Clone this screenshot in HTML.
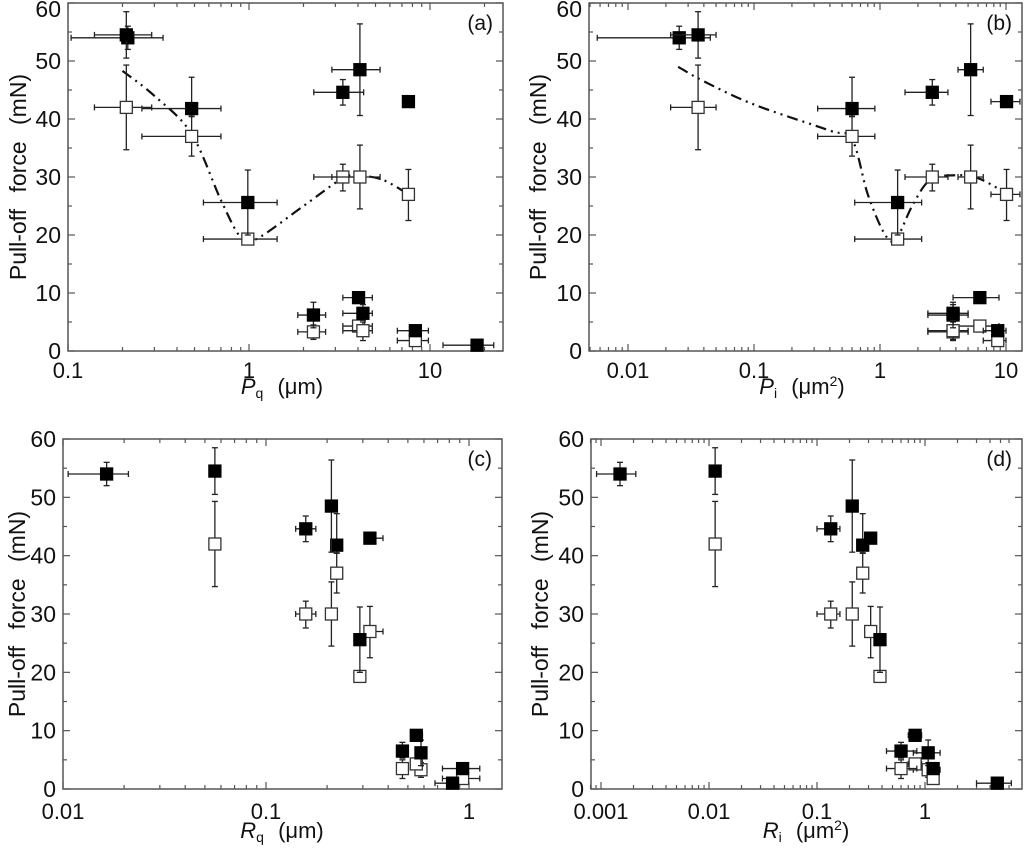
<!DOCTYPE html>
<html><head><meta charset="utf-8">
<style>
html,body{margin:0;padding:0;background:#fff;}
svg{display:block;font-family:"Liberation Sans",Arial,sans-serif;}
</style></head>
<body>
<svg id="fig" width="1024" height="850" viewBox="0 0 1024 850"></svg>
<script>
// ---- shared force data (mN) for 12 samples ----
const filledForce = [54.0, 54.5, 41.8, 25.6, 44.6, 48.5, 43.0, 6.2, 9.2, 6.5, 3.5, 1.0];
const filledLo    = [52.0, 50.5, 40.5, 20.0, 42.4, 40.6, 42.6, 4.0, 8.5, 5.3, 3.0, 0.7];
const filledHi    = [56.0, 58.5, 47.2, 31.2, 46.8, 56.4, 43.4, 8.4, 9.9, 8.0, 4.0, 1.3];
const openForce = [null, 42.0, 37.0, 19.3, 30.0, 30.0, 27.0, 3.3, 4.3, 3.5, 1.8, null];
const openLo    = [null, 34.7, 33.6, 19.0, 27.6, 24.5, 22.5, 2.0, 3.5, 1.8, 1.3, null];
const openHi    = [null, 49.3, 40.4, 20.0, 32.2, 35.5, 31.3, 4.5, 5.0, 5.0, 2.3, null];
// ---- panel x values ----
const xA = [0.214, 0.21, 0.482, 0.985, 3.3, 4.1, 7.6, 2.27, 4.03, 4.26, 8.3, 18.2];
const xALo = [0.104, 0.14, 0.256, 0.56, 2.28, 2.87, null, 1.86, 3.3, 3.3, 6.6, 11.8];
const xAHi = [0.335, 0.29, 0.70, 1.43, 4.3, 5.3, null, 2.65, 4.8, 4.8, 9.8, 22.5];
const xB = [0.0255, 0.036, 0.60, 1.38, 2.6, 5.24, 10.1, 3.8, 6.2, 3.8, 8.6, null];
const xBLo = [0.0057, 0.0218, 0.32, 0.63, 1.58, 4.16, 7.6, 2.4, 3.8, 2.4, 6.6, null];
const xBHi = [0.045, 0.05, 0.91, 2.14, 3.46, 6.6, 12.9, 5.0, 8.8, 5.0, 10.0, null];
const xC = [0.0164, 0.056, 0.223, 0.29, 0.157, 0.21, 0.325, 0.58, 0.55, 0.47, 0.93, 0.83];
const xCLo = [0.0106, null, null, null, 0.14, null, 0.306, null, 0.52, null, 0.74, 0.68];
const xCHi = [0.021, null, null, null, 0.176, null, 0.377, null, 0.59, null, 1.13, 0.88];
const xD = [0.0015, 0.0114, 0.265, 0.383, 0.134, 0.212, 0.314, 1.07, 0.81, 0.6, 1.19, 4.67];
const xDLo = [0.00091, null, null, null, 0.10, null, null, 0.78, 0.70, 0.44, 1.05, 3.0];
const xDHi = [0.0021, null, null, null, 0.163, null, null, 1.38, 0.93, 0.84, 1.30, 6.3];
// ---- guide curves ----
const curveAX = [0.2, 0.3, 0.48, 0.7, 0.9, 1.1, 2.0, 3.3, 4.1, 5.5, 7.6];
const curveAY = [48.3, 44, 37.5, 26, 19.6, 19.3, 25, 29.8, 30.2, 29.5, 27];
const curveBX = [0.025, 0.04, 0.1, 0.4, 0.6, 0.8, 1.1, 1.35, 1.8, 2.5, 4, 6, 9.5];
const curveBY = [49, 46.5, 42.5, 38, 36.5, 27, 20, 19.4, 25, 29.5, 30.3, 29.8, 27.5];
const yTicks = [0, 10, 20, 30, 40, 50, 60];

const NS = "http://www.w3.org/2000/svg";
const svg = document.getElementById('fig');
function mk(tag, attrs, parent, txt){
  const e = document.createElementNS(NS, tag);
  for (const k in attrs) e.setAttribute(k, attrs[k]);
  if (txt !== undefined) e.textContent = txt;
  (parent || svg).appendChild(e);
  return e;
}

const panels = [
  {id:'a', L:68, R:503, T:3, B:351, x0:68, dec:181, v0:0.1, lo:0.1, hi:25, labels:[[0.1,'0.1'],[1,'1'],[10,'10']],
   xs:xA, xl:xALo, xh:xAHi, curveX:curveAX, curveY:curveAY, xt:'P', sub:'q', unit:' (μm)', sup:'', xlabX:282, ylabX:18, tl:27, xtl:43},
  {id:'b', L:589, R:1022, T:3, B:351, x0:880, dec:126, v0:1, lo:0.0049, hi:12.5, labels:[[0.01,'0.01'],[0.1,'0.1'],[1,'1'],[10,'10']],
   xs:xB, xl:xBLo, xh:xBHi, curveX:curveBX, curveY:curveBY, xt:'P', sub:'i', unit:' (μm', sup:'2', xlabX:802, ylabX:538, tl:27, xtl:43},
  {id:'c', L:63, R:502, T:439, B:789, x0:469, dec:203, v0:1, lo:0.01, hi:1.45, labels:[[0.01,'0.01'],[0.1,'0.1'],[1,'1']],
   xs:xC, xl:xCLo, xh:xCHi, curveX:null, xt:'R', sub:'q', unit:' (μm)', sup:'', xlabX:282, ylabX:17, tl:30, xtl:49},
  {id:'d', L:591, R:1022, T:439, B:789, x0:925, dec:108, v0:1, lo:0.00074, hi:6.6, labels:[[0.001,'0.001'],[0.01,'0.01'],[0.1,'0.1'],[1,'1']],
   xs:xD, xl:xDLo, xh:xDHi, curveX:null, xt:'R', sub:'i', unit:' (μm', sup:'2', xlabX:806, ylabX:540, tl:30, xtl:49}
];

panels.forEach(p => {
  const g = mk('g', {});
  
  
  const X = v => p.x0 + p.dec * Math.log10(v / p.v0);
  const Y = v => p.B - (p.B - p.T) * v / 60;
  const fr = mk('rect', {x:p.L, y:p.T, width:p.R-p.L, height:p.B-p.T, fill:'none', stroke:'#555', 'stroke-width':1.5}, g);
  
  
  for (let v = 0; v <= 60; v += 5) {
    const y = Y(v), len = v % 10 === 0 ? 7 : 4;
    mk('line', {x1:p.L, x2:p.L+len, y1:y, y2:y, stroke:'#555', 'stroke-width':1.2}, g);
    mk('line', {x1:p.R, x2:p.R-len, y1:y, y2:y, stroke:'#555', 'stroke-width':1.2}, g);
  }
  yTicks.forEach(v => {
    const t = mk('text', {x:p.L-7, y:Math.max(Y(v)+8, 17), 'font-size':23, 'text-anchor':'end', fill:'#111'}, g, String(v));
    
    
  });
  const e0 = Math.floor(Math.log10(p.lo)) , e1 = Math.ceil(Math.log10(p.hi));
  for (let e = e0; e <= e1; e++) {
    for (let m = 1; m <= 9; m++) {
      const v = m * Math.pow(10, e);
      if (v < p.lo * 0.999 || v > p.hi) continue;
      const x = X(v), len = m === 1 ? 7 : 4;
      mk('line', {x1:x, x2:x, y1:p.B, y2:p.B-len, stroke:'#555', 'stroke-width':1.2}, g);
      mk('line', {x1:x, x2:x, y1:p.T, y2:p.T+len, stroke:'#555', 'stroke-width':1.2}, g);
    }
  }
  p.labels.forEach(([v, s]) => {
    const t = mk('text', {x:X(v), y:p.B+p.tl, 'font-size':22, 'text-anchor':'middle', fill:'#111'}, g, s);
    
    
  });
  const yl = mk('text', {x:0, y:0, 'font-size':23, 'text-anchor':'middle', fill:'#111',
    transform:`translate(${p.ylabX + 8},${(p.T+p.B)/2}) rotate(-90)`, 'word-spacing':'10'}, g, 'Pull-off force (mN)');
  
  
  const xl = mk('text', {x:p.xlabX, y:p.B+p.xtl, 'font-size':22, 'text-anchor':'middle', fill:'#111', 'word-spacing':'8'}, g);
  
  
  mk('tspan', {'font-style':'italic'}, xl, p.xt);
  mk('tspan', {'font-size':14, dy:4}, xl, p.sub);
  mk('tspan', {dy:-4}, xl, p.unit);
  if (p.sup) { mk('tspan', {'font-size':14, dy:-8}, xl, p.sup); mk('tspan', {dy:8}, xl, ')'); }
  const pl = mk('text', {x:p.R-10, y:p.T+27, 'font-size':21, 'text-anchor':'end', fill:'#111'}, g, '(' + p.id + ')');
  
  
  if (p.curveX) {
    const pts = p.curveX.map((v, i) => [X(v), Y(p.curveY[i])]);
    let d = `M${pts[0][0]},${pts[0][1]}`;
    for (let i = 0; i < pts.length - 1; i++) {
      const p0 = pts[Math.max(i-1,0)], p1 = pts[i], p2 = pts[i+1], p3 = pts[Math.min(i+2, pts.length-1)];
      const c1 = [p1[0] + (p2[0]-p0[0])/6, p1[1] + (p2[1]-p0[1])/6];
      const c2 = [p2[0] - (p3[0]-p1[0])/6, p2[1] - (p3[1]-p1[1])/6];
      d += ` C${c1[0]},${c1[1]} ${c2[0]},${c2[1]} ${p2[0]},${p2[1]}`;
    }
    const c = mk('path', {d:d, fill:'none', stroke:'#111', 'stroke-width':2.2, 'stroke-dasharray':'11 5 2 5 2 5'}, g);
    
    
  }
  function drawSeries(vals, lo, hi, filled) {
    vals.forEach((f, i) => {
      if (f === null || p.xs[i] === null) return;
      const x = X(p.xs[i]), y = Y(f);
      const cap = 3;
      if (lo[i] !== null) {
        mk('line', {x1:x, x2:x, y1:Y(lo[i]), y2:Y(hi[i]), stroke:'#222', 'stroke-width':1.3}, g);
        mk('line', {x1:x-cap, x2:x+cap, y1:Y(lo[i]), y2:Y(lo[i]), stroke:'#222', 'stroke-width':1.3}, g);
        mk('line', {x1:x-cap, x2:x+cap, y1:Y(hi[i]), y2:Y(hi[i]), stroke:'#222', 'stroke-width':1.3}, g);
      }
      if (p.xl[i] !== null) {
        const a = X(p.xl[i]), b = X(p.xh[i]);
        mk('line', {x1:a, x2:b, y1:y, y2:y, stroke:'#222', 'stroke-width':1.3}, g);
        mk('line', {x1:a, x2:a, y1:y-cap, y2:y+cap, stroke:'#222', 'stroke-width':1.3}, g);
        mk('line', {x1:b, x2:b, y1:y-cap, y2:y+cap, stroke:'#222', 'stroke-width':1.3}, g);
      }
      const s = 12;
      const r = mk('rect', {x:x-s/2, y:y-s/2, width:s, height:s, fill: filled ? '#000' : '#fff', stroke: filled ? '#000' : '#333', 'stroke-width':1.3}, g);
      
      
    });
  }
  drawSeries(openForce, openLo, openHi, false);
  drawSeries(filledForce, filledLo, filledHi, true);
});
</script>
</body></html>
